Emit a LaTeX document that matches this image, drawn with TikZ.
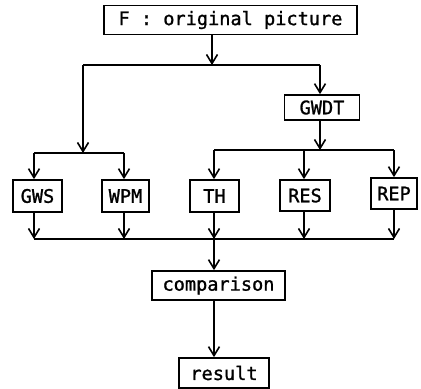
\documentclass[tikz,border=0pt]{standalone}
\usepackage{fontspec}
\newfontfamily\boxfont[FakeBold=1.2]{DejaVu Sans Mono}
\usetikzlibrary{arrows.meta}
\begin{document}
\begin{tikzpicture}[x=1bp,y=-1bp,
  line width=1.7bp,
  box/.style={draw, inner sep=0pt, minimum height=30bp,
    font=\boxfont\fontsize{18.6bp}{20bp}\selectfont},
  flow/.style={-{Straight Barb[length=9bp,width=11bp,line width=1.6bp]}}]
\useasboundingbox (0,0) rectangle (421,389);

% boxes
\node[box, minimum width=253bp, minimum height=29bp] (F) at (230.5,20) {F : original picture};
\node[box, minimum width=75bp, minimum height=25bp] (gwdt) at (322,107.5) {GWDT};
\node[box, minimum width=49bp, minimum height=32bp] (gws) at (37.5,196) {GWS};
\node[box, minimum width=47bp, minimum height=32bp] (wpm) at (125.5,196) {WPM};
\node[box, minimum width=49bp, minimum height=32bp] (th) at (214.5,196) {TH};
\node[box, minimum width=50bp, minimum height=31bp] (res) at (305,195.5) {RES};
\node[box, minimum width=46bp, minimum height=31bp] (rep) at (394,193.5) {REP};
\node[box, minimum width=133bp, minimum height=29bp] (cmp) at (218.5,285.5) {comparison};
\node[box, minimum width=90bp, minimum height=30bp] (res2) at (224,373) {result};

% junction points
\coordinate (j1) at (212,65);
\coordinate (j1l) at (83,65);
\coordinate (j1r) at (320,65);
\coordinate (jl) at (83,153);
\coordinate (jll) at (34,153);
\coordinate (jlr) at (124,153);
\coordinate (jr) at (320,150);
\coordinate (jrl) at (214,150);
\coordinate (jrm) at (304,150);
\coordinate (jrr) at (394,150);
\coordinate (b1) at (34,239);
\coordinate (b2) at (124,239);
\coordinate (b3) at (214,239);
\coordinate (b4) at (304,239);
\coordinate (b5) at (394,239);

% from the original picture
\draw[flow] (F.south -| j1) -- (j1);
\draw (j1l) -- (j1r);
\draw[flow] (j1l) -- (jl);
\draw[flow] (j1r) -- (gwdt.north -| j1r);

% left branch
\draw (jll) -- (jlr);
\draw[flow] (jll) -- (gws.north -| jll);
\draw[flow] (jlr) -- (wpm.north -| jlr);

% right branch
\draw[flow] (gwdt.south -| jr) -- (jr);
\draw (jrl) -- (jrr);
\draw[flow] (jrl) -- (th.north -| jrl);
\draw[flow] (jrm) -- (res.north -| jrm);
\draw[flow] (jrr) -- (rep.north -| jrr);

% collecting the results
\draw[flow] (gws.south -| b1) -- (b1);
\draw[flow] (wpm.south -| b2) -- (b2);
\draw[flow] (th.south -| b3) -- (b3);
\draw[flow] (res.south -| b4) -- (b4);
\draw[flow] (rep.south -| b5) -- (b5);
\draw (b1) -- (b5);
\draw[flow] (b3) -- (cmp.north -| b3);
\draw[flow] (cmp.south -| b3) -- (res2.north -| b3);
\end{tikzpicture}
\end{document}
